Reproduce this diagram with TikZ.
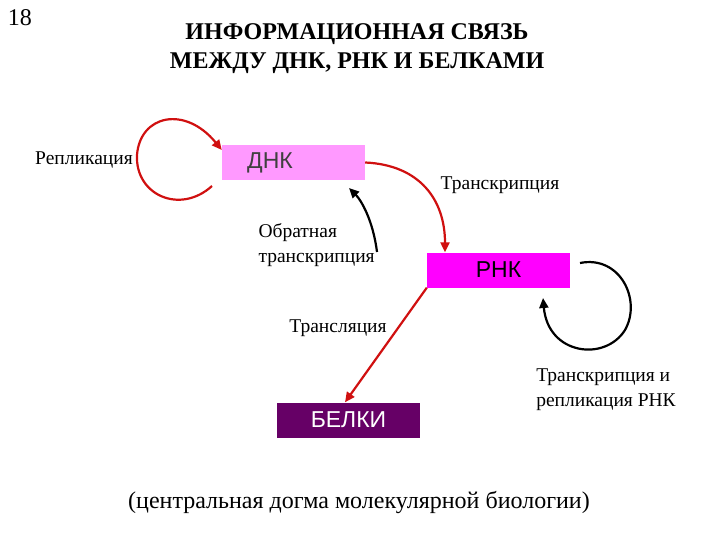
\documentclass[tikz,border=0pt]{standalone}
\usepackage{fontspec}
\setmainfont{Liberation Serif}
\newfontfamily\sansf{Liberation Sans}
\usetikzlibrary{arrows.meta}
\definecolor{lpink}{HTML}{FF99FF}
\definecolor{mag}{HTML}{FF00FF}
\definecolor{dpurp}{HTML}{660066}
\definecolor{arrred}{HTML}{D01010}
\begin{document}
\begin{tikzpicture}[x=1pt,y=-1pt,
  lbl/.style={font=\fontsize{19.5}{25}\selectfont,align=left},
  boxn/.style={minimum width=143pt,minimum height=35pt,inner sep=0pt,font=\sansf\fontsize{23}{26}\selectfont},
  redarr/.style={draw=arrred,line width=2.2pt,-{Triangle[length=10pt,width=9pt]}},
  blkarr/.style={draw=black,line width=2.2pt,-{Triangle[length=10pt,width=9pt]}}]
\useasboundingbox (0,0) rectangle (720,540);
\node (num) at (20,18) {\fontsize{24}{26}\selectfont 18};
\node[align=center,font=\bfseries\fontsize{24}{29}\selectfont] (title) at (357,49) {ИНФОРМАЦИОННАЯ СВЯЗЬ\\МЕЖДУ ДНК, РНК И БЕЛКАМИ};
\node[boxn,fill=lpink,text=black!75] (dna) at (293.5,162.5) {\hspace*{-2pt}ДНК\hspace*{45pt}};
\node[boxn,fill=mag] (rna) at (498.5,270) {РНК};
\node[boxn,fill=dpurp,text=white] (prot) at (348.5,420) {БЕЛКИ};
\node[lbl] (repl) at (84,160) {Репликация};
\node[lbl] (tr) at (500,185) {Транскрипция};
\node[lbl,anchor=west] (rev) at (255,245) {Обратная\\транскрипция};
\node[lbl] (transl) at (338,328) {Трансляция};
\node[lbl,align=left] (trr) at (606,390) {Транскрипция и\\репликация РНК};
\node (dogma) at (359,502) {\fontsize{24}{26}\selectfont (центральная догма молекулярной биологии)};
\coordinate (c1s) at (212,186);
\draw[redarr] (c1s) .. controls (180,215) and (135,195) .. (137,155)
  .. controls (140,115) and (185,105) .. (dna.west|-0,150);
\draw[redarr] (dna.east) .. controls (420,165) and (445,200) .. (rna.north-|445,0);
\coordinate (bs) at (377,252);
\draw[blkarr] (bs) .. controls (373,220) and (361,200) .. (349,188);
\coordinate (c2s) at (580,263);
\draw[blkarr] (c2s) .. controls (620,255) and (642,300) .. (625,330)
  .. controls (605,362) and (548,355) .. (543,298);
\draw[redarr] (rna.south west) -- (prot.north-|345,0);
\end{tikzpicture}
\end{document}
